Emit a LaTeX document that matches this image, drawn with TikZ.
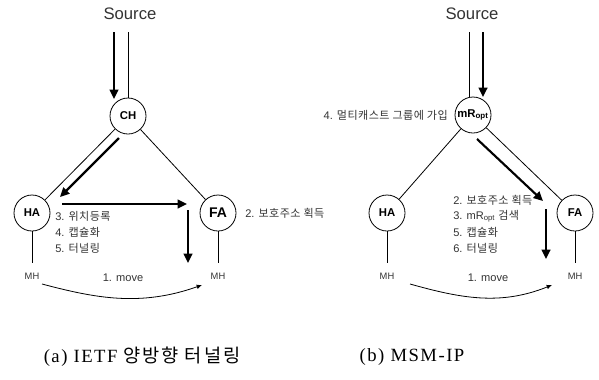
\documentclass[tikz,border=0pt]{standalone}
\usepackage{fontspec}
\setmainfont{Liberation Sans}
\newfontfamily\kr[LetterSpace=4]{Noto Sans CJK KR}
\newfontfamily\krcap[LetterSpace=10]{Noto Sans CJK KR}
\newfontfamily\capser[LetterSpace=8]{Liberation Serif}
\newcommand{\krt}[1]{{\kr #1}}
\usetikzlibrary{arrows.meta}
\begin{document}
\begin{tikzpicture}[x=0.75pt,y=-0.75pt,
  every node/.style={inner sep=0pt, text=black!80},
  circ/.style={draw, circle, line width=0.6pt, minimum size=27pt, text=black, font=\bfseries\fontsize{8.5}{10}\selectfont},
  link/.style={line width=0.6pt},
  bigarrow/.style={line width=1.6pt, -{Triangle[length=7pt,width=6.5pt]}},
  movearrow/.style={line width=0.6pt, -{Latex[length=4pt,width=3.5pt]}},
  srclabel/.style={font=\fontsize{12.5}{14}\selectfont},
  mh/.style={font=\fontsize{7}{8}\selectfont},
  lbl/.style={anchor=west, font=\fontsize{8.3}{10}\selectfont},
  caption/.style={font=\capser\fontsize{14}{16}\selectfont, text=black}
]
\useasboundingbox (0,0) rectangle (599,379);

% ---------------- (a) ----------------
\node[srclabel] (srcA) at (130,14) {Source};
\node[circ] (CH) at (128,116) {CH};
\node[circ] (HAa) at (32,213) {HA};
\node[circ, font=\bfseries\fontsize{10.5}{12}\selectfont] (FAa) at (218,213) {FA};
\node[mh] (MHa1) at (32,276) {MH};
\node[mh] (MHa2) at (218,276) {MH};

\coordinate (tA) at (128,32);
\draw[link] (tA) -- (CH.north);
\coordinate (aA1) at (114,32);
\coordinate (aA2) at (114,99);
\draw[bigarrow] (aA1) -- (aA2);

\draw[link] (CH) -- (HAa);
\draw[link] (CH) -- (FAa);

\coordinate (aA3) at (119,138);
\coordinate (aA4) at (60,197);
\draw[bigarrow] (aA3) -- (aA4);
\coordinate (aA5) at (62,204);
\coordinate (aA6) at (187,204);
\draw[bigarrow] (aA5) -- (aA6);
\coordinate (aA7) at (188,210);
\coordinate (aA8) at (188,263);
\draw[bigarrow] (aA7) -- (aA8);

\draw[link, shorten >=7.5pt] (HAa) -- (MHa1.north);
\draw[link, shorten >=7.5pt] (FAa) -- (MHa2.north);

\node[lbl] (la1) at (55,216) {3. \krt{위치등록}};
\node[lbl] (la2) at (55,232) {4. \krt{캡슐화}};
\node[lbl] (la3) at (55,248) {5. \krt{터널링}};
\node[lbl] (la4) at (245,213) {2. \krt{보호주소 획득}};

\node[lbl, anchor=center] (mvA) at (123,278) {1. move};
\coordinate (cA1) at (42,284);
\coordinate (cA2) at (202,285);
\draw[movearrow] (cA1) .. controls (95,298) and (140,307) .. (cA2);

\node[caption] (capA) at (142,357) {(a) IETF {\krcap 양방향 터널링}};

% ---------------- (b) ----------------
\node[srclabel] (srcB) at (472,14) {Source};
\node[circ] (MR) at (473,115) {mR\textsubscript{opt}};
\node[circ] (HAb) at (387,213) {HA};
\node[circ] (FAb) at (575,213) {FA};
\node[mh] (MHb1) at (387,276) {MH};
\node[mh] (MHb2) at (575,276) {MH};

\coordinate (tB) at (469,32);
\draw[link] (tB) -- (tB |- MR.north);
\coordinate (aB1) at (483,32);
\coordinate (aB2) at (483,97);
\draw[bigarrow] (aB1) -- (aB2);

\draw[link] (MR) -- (HAb);
\draw[link] (MR) -- (FAb);

\coordinate (aB3) at (477,139);
\coordinate (aB4) at (543,201);
\draw[bigarrow] (aB3) -- (aB4);
\coordinate (aB5) at (546,209);
\coordinate (aB6) at (546,259);
\draw[bigarrow] (aB5) -- (aB6);

\draw[link, shorten >=7.5pt] (HAb) -- (MHb1.north);
\draw[link, shorten >=7.5pt] (FAb) -- (MHb2.north);

\node[lbl, anchor=east] (lb0) at (448,115) {4. \krt{멀티캐스트 그룹에 가입}};
\node[lbl] (lb1) at (453,200) {2. \krt{보호주소 획득}};
\node[lbl] (lb2) at (453,216) {3. mR\textsubscript{opt} \krt{검색}};
\node[lbl] (lb3) at (453,232) {5. \krt{캡슐화}};
\node[lbl] (lb4) at (453,248) {6. \krt{터널링}};

\node[lbl, anchor=center] (mvB) at (488,278) {1. move};
\coordinate (cB1) at (410,284);
\coordinate (cB2) at (552,285);
\draw[movearrow] (cB1) .. controls (460,298) and (500,306) .. (cB2);

\node[caption] (capB) at (412,357) {(b) MSM-IP};
\end{tikzpicture}
\end{document}
